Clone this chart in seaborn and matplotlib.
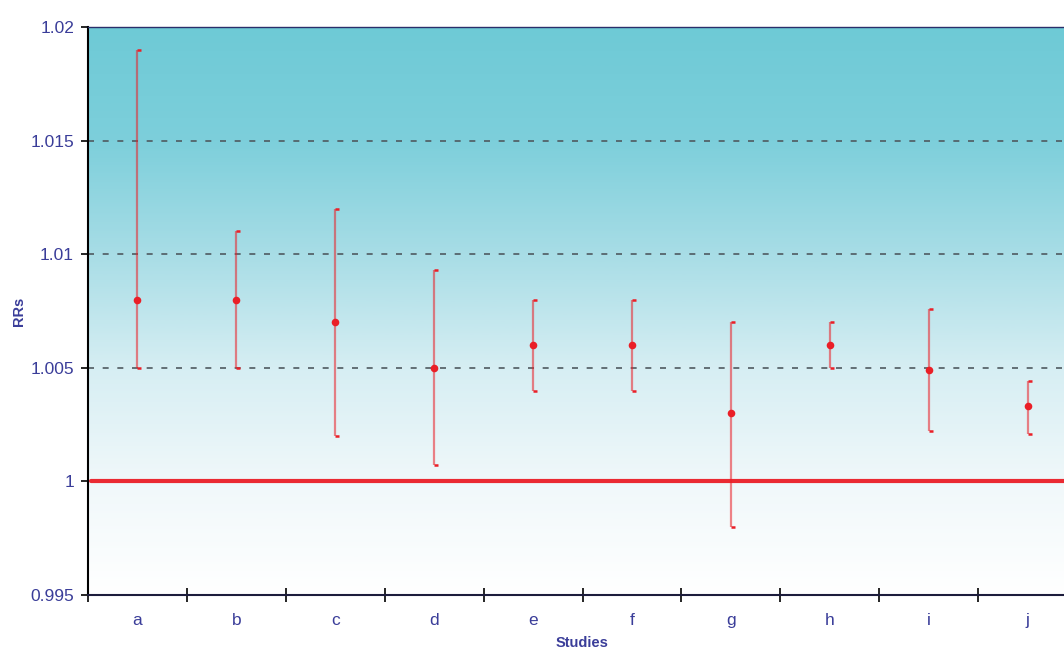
import numpy as np
import pandas as pd
import matplotlib
matplotlib.use("Agg")
import matplotlib.pyplot as plt
from matplotlib.path import Path
from matplotlib.colors import LinearSegmentedColormap
import seaborn as sns

# Relative risks with 95% confidence limits per study
studies = ["a", "b", "c", "d", "e", "f", "g", "h", "i", "j"]
rr = [1.008, 1.008, 1.007, 1.005, 1.006, 1.006, 1.003, 1.006, 1.0049, 1.0033]
ci_low = [1.005, 1.005, 1.002, 1.0007, 1.004, 1.004, 0.998, 1.005, 1.0022, 1.0021]
ci_high = [1.019, 1.011, 1.012, 1.0093, 1.008, 1.008, 1.007, 1.007, 1.0076, 1.0044]

y_ticks = [0.995, 1.0, 1.005, 1.01, 1.015, 1.02]
y_tick_labels = ["0.995", "1", "1.005", "1.01", "1.015", "1.02"]
grid_levels = [1.005, 1.01, 1.015]
reference = 1.0

df = pd.DataFrame({"study": studies, "rr": rr, "low": ci_low, "high": ci_high})
df["pos"] = np.arange(len(df))

sns.set_theme(style="white")
plt.rcParams["font.family"] = ["Liberation Sans", "DejaVu Sans"]

navy = "#3a3d99"
red = "#ea1f27"

fig = plt.figure(figsize=(10.64, 6.51), dpi=100)
W, H = 1064, 651
ax = fig.add_axes([88 / W, (H - 595) / H, (1077 - 88) / W, (595 - 27) / H])

# Vertical teal-to-white background gradient
cmap = LinearSegmentedColormap.from_list(
    "bg",
    [(0.0, "#ffffff"), (0.2, "#f0f8fa"), (0.4, "#d6eef3"),
     (0.6, "#a8dde6"), (0.8, "#7dcfdb"), (1.0, "#6ecad6")],
)
grad = np.linspace(0, 1, 512).reshape(-1, 1)
ax.imshow(grad, cmap=cmap, aspect="auto", origin="lower",
          extent=[0, 1, 0, 1], transform=ax.transAxes, zorder=0)

ax.set_xlim(-0.5, len(studies) - 0.5)
ax.set_ylim(0.995, 1.02)

# Dashed horizontal gridlines
for lv in grid_levels:
    ax.axhline(lv, color="#4f5a60", lw=1.2, ls=(0, (3.6, 5.2)), zorder=1)

# Reference line at RR = 1
ax.axhline(reference, xmin=0.003, xmax=1, color=red, lw=3.0, zorder=2, alpha=0.95)

# Confidence interval whiskers
ax.vlines(df["pos"], df["low"], df["high"], color=red, alpha=0.55, lw=1.6, zorder=3)

# Half-caps pointing to the right
cap = Path([(0, 0), (1, 0)], [Path.MOVETO, Path.LINETO])
for col in ["low", "high"]:
    ax.plot(df["pos"], df[col], ls="none", marker=cap, markersize=6,
            markeredgewidth=1.8, color=red, zorder=4)

# Point estimates
sns.scatterplot(data=df, x="pos", y="rr", ax=ax, color=red, s=30,
                edgecolor=red, linewidth=0, zorder=5, legend=False)

ax.set_yticks(y_ticks)
ax.set_yticklabels(y_tick_labels)
ax.set_xticks(df["pos"])
ax.set_xticklabels(studies)
ax.set_xticks(np.arange(-0.5, len(studies), 1.0), minor=True)

ax.tick_params(axis="y", which="major", direction="out", length=5, width=1.2,
               color="black", labelcolor=navy, labelsize=12.5, pad=5, left=True)
ax.tick_params(axis="x", which="major", length=0, labelcolor=navy,
               labelsize=12.5, pad=13)
ax.tick_params(axis="x", which="minor", direction="inout", length=10, width=1.2,
               color="black", bottom=True)

ax.set_xlabel("Studies", color=navy, fontsize=10.5, fontweight="bold", labelpad=6)
ax.set_ylabel("RRs", color=navy, fontsize=10.5, fontweight="bold", labelpad=3)

for side in ["left", "bottom", "top"]:
    ax.spines[side].set_visible(True)
ax.spines["left"].set_color("black")
ax.spines["left"].set_linewidth(1.5)
ax.spines["bottom"].set_color("#1c1c3c")
ax.spines["bottom"].set_linewidth(1.5)
ax.spines["top"].set_color("#2a2f6a")
ax.spines["top"].set_linewidth(1.0)
ax.spines["right"].set_visible(False)

fig.savefig("out.png", dpi=100)
